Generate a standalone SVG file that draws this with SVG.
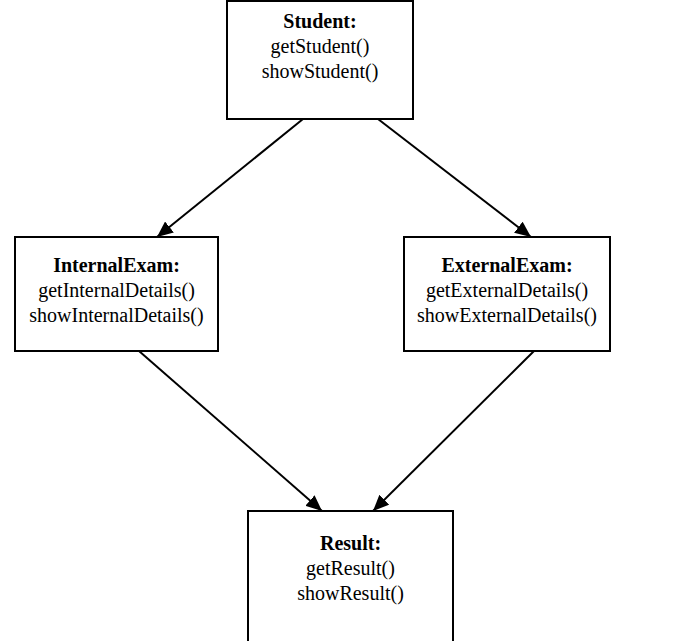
<svg xmlns="http://www.w3.org/2000/svg" width="698" height="641" viewBox="0 0 698 641">
  <style>
    .box { fill: #fff; stroke: #000; stroke-width: 2; }
    .title { font-family: "Liberation Serif", "Times New Roman", serif; font-size: 20px; font-weight: bold; text-anchor: middle; fill: #000; }
    .op { font-family: "Liberation Serif", "Times New Roman", serif; font-size: 20px; text-anchor: middle; fill: #000; }
    .edge { stroke: #000; stroke-width: 2; fill: none; marker-end: url(#arrow); }
  </style>
  <defs>
    <marker id="arrow" markerWidth="8" markerHeight="7" refX="8" refY="3.5" orient="auto" markerUnits="strokeWidth">
      <path d="M0,0 L8,3.5 L0,7 Z" fill="#000"/>
    </marker>
  </defs>
  <rect width="698" height="641" fill="#fff"/>

  <g id="connectors">
    <line class="edge" x1="303" y1="119" x2="157" y2="237"/>
    <line class="edge" x1="378" y1="119" x2="531" y2="237"/>
    <line class="edge" x1="139" y1="351" x2="322" y2="511"/>
    <line class="edge" x1="534" y1="351" x2="373" y2="511"/>
  </g>

  <g id="student">
    <rect class="box" x="227" y="1" width="186" height="118"/>
    <text class="title" x="320" y="28">Student:</text>
    <text class="op" x="320" y="53">getStudent()</text>
    <text class="op" x="320" y="78">showStudent()</text>
  </g>

  <g id="internalExam">
    <rect class="box" x="15" y="237" width="203" height="114"/>
    <text class="title" x="116.5" y="272">InternalExam:</text>
    <text class="op" x="116.5" y="297">getInternalDetails()</text>
    <text class="op" x="116.5" y="322">showInternalDetails()</text>
  </g>

  <g id="externalExam">
    <rect class="box" x="404" y="237" width="206" height="114"/>
    <text class="title" x="507" y="272">ExternalExam:</text>
    <text class="op" x="507" y="297">getExternalDetails()</text>
    <text class="op" x="507" y="322">showExternalDetails()</text>
  </g>

  <g id="result">
    <rect class="box" x="248" y="511" width="205" height="140"/>
    <text class="title" x="350.5" y="550">Result:</text>
    <text class="op" x="350.5" y="575">getResult()</text>
    <text class="op" x="350.5" y="600">showResult()</text>
  </g>
</svg>
